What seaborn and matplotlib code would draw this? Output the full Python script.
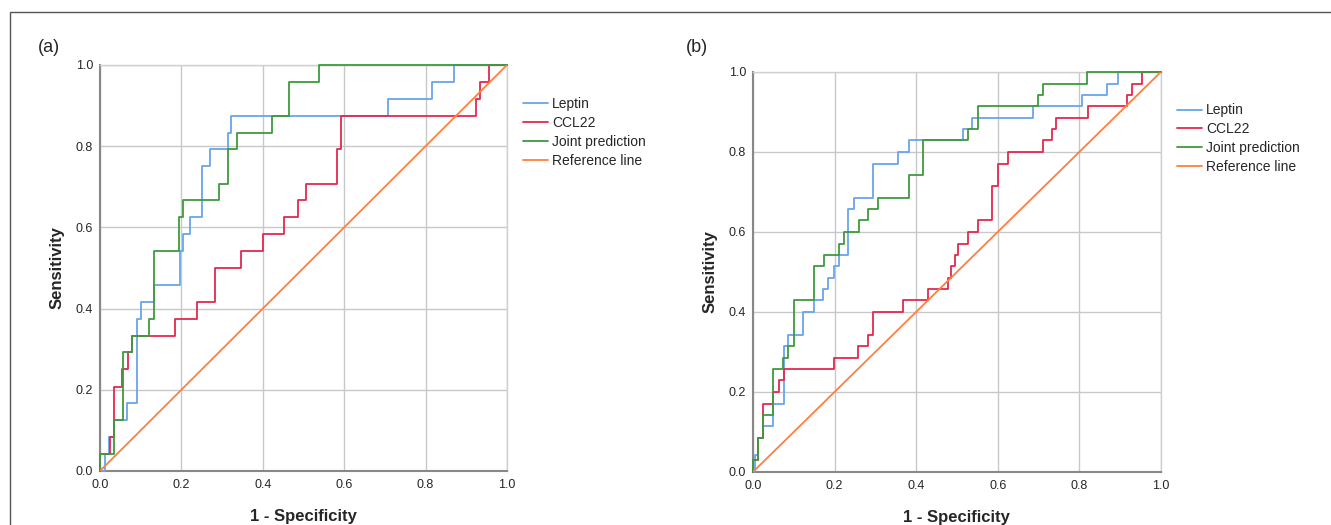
import numpy as np
import pandas as pd
import matplotlib
matplotlib.use("Agg")
import matplotlib.pyplot as plt
import seaborn as sns
from matplotlib.patches import Rectangle

sns.set_theme(style="white")
plt.rcParams['font.family'] = ['Liberation Sans', 'DejaVu Sans']

markers = ["Leptin", "CCL22", "Joint prediction"]
colors = {"Leptin": "#6aa5ec", "CCL22": "#e3294f", "Joint prediction": "#3f9a3f", "Reference line": "#ff7f3f"}

# panel (a): step points (fpr at jump, tpr after jump)
a_leptin_fpr = [0, 0.012, 0.023, 0.035, 0.067, 0.09, 0.10, 0.133, 0.197, 0.205, 0.22, 0.25, 0.271, 0.314, 0.323, 0.708, 0.817, 0.87, 1.0]
a_leptin_tpr = [0, 0.042, 0.083, 0.125, 0.167, 0.375, 0.417, 0.458, 0.542, 0.583, 0.625, 0.75, 0.792, 0.833, 0.875, 0.917, 0.958, 1.0, 1.0]
a_ccl22_fpr = [0, 0, 0.025, 0.035, 0.055, 0.07, 0.078, 0.184, 0.239, 0.283, 0.346, 0.40, 0.453, 0.486, 0.506, 0.582, 0.591, 0.924, 0.934, 0.956, 1.0]
a_ccl22_tpr = [0, 0.042, 0.083, 0.208, 0.25, 0.292, 0.333, 0.375, 0.417, 0.5, 0.542, 0.583, 0.625, 0.667, 0.708, 0.792, 0.875, 0.917, 0.958, 1.0, 1.0]
a_joint_fpr = [0, 0, 0.035, 0.057, 0.078, 0.12, 0.133, 0.195, 0.205, 0.292, 0.314, 0.336, 0.422, 0.464, 0.538, 1.0]
a_joint_tpr = [0, 0.042, 0.125, 0.292, 0.333, 0.375, 0.542, 0.625, 0.667, 0.708, 0.792, 0.833, 0.875, 0.958, 1.0, 1.0]

# panel (b)
b_leptin_fpr = [0, 0.006, 0.012, 0.025, 0.049, 0.075, 0.086, 0.123, 0.149, 0.172, 0.184, 0.198, 0.21, 0.233, 0.248, 0.294, 0.355, 0.382, 0.516, 0.538, 0.686, 0.807, 0.869, 0.894, 1.0]
b_leptin_tpr = [0, 0.043, 0.086, 0.114, 0.171, 0.314, 0.343, 0.4, 0.429, 0.457, 0.486, 0.514, 0.543, 0.657, 0.686, 0.771, 0.8, 0.829, 0.857, 0.886, 0.914, 0.943, 0.971, 1.0, 1.0]
b_ccl22_fpr = [0, 0, 0.012, 0.025, 0.049, 0.065, 0.075, 0.198, 0.257, 0.282, 0.294, 0.368, 0.429, 0.478, 0.486, 0.495, 0.503, 0.528, 0.552, 0.587, 0.6, 0.624, 0.71, 0.734, 0.744, 0.822, 0.918, 0.93, 0.953, 1.0]
b_ccl22_tpr = [0, 0.029, 0.086, 0.171, 0.2, 0.229, 0.257, 0.286, 0.314, 0.343, 0.4, 0.429, 0.457, 0.486, 0.514, 0.543, 0.571, 0.6, 0.629, 0.714, 0.771, 0.8, 0.829, 0.857, 0.886, 0.914, 0.943, 0.971, 1.0, 1.0]
b_joint_fpr = [0, 0, 0.012, 0.025, 0.049, 0.074, 0.086, 0.1, 0.149, 0.174, 0.21, 0.222, 0.259, 0.282, 0.306, 0.382, 0.417, 0.526, 0.551, 0.698, 0.71, 0.82, 1.0]
b_joint_tpr = [0, 0.029, 0.086, 0.143, 0.257, 0.286, 0.314, 0.429, 0.514, 0.543, 0.571, 0.6, 0.629, 0.657, 0.686, 0.743, 0.829, 0.857, 0.914, 0.943, 0.971, 1.0, 1.0]

ref_x = [0, 1]
ref_y = [0, 1]
ticks = [0.0, 0.2, 0.4, 0.6, 0.8, 1.0]

panels = [
    ("(a)", [(a_leptin_fpr, a_leptin_tpr), (a_ccl22_fpr, a_ccl22_tpr), (a_joint_fpr, a_joint_tpr)]),
    ("(b)", [(b_leptin_fpr, b_leptin_tpr), (b_ccl22_fpr, b_ccl22_tpr), (b_joint_fpr, b_joint_tpr)]),
]
rects = [[0.0751, 0.1029, 0.3058, 0.7733], [0.5657, 0.1010, 0.3065, 0.7620]]
tag_pos = [(49 / 1331, 1 - 47 / 525), (697 / 1331, 1 - 47 / 525)]

fig = plt.figure(figsize=(13.31, 5.25), dpi=100)
fig.add_artist(Rectangle((0.0075, -0.1), 1.2, 1.077, transform=fig.transFigure,
                         fill=False, edgecolor="#555555", lw=1.0))

for (tag, curves), rect, tp in zip(panels, rects, tag_pos):
    ax = fig.add_axes(rect)
    for name, (fx, ty) in zip(markers, curves):
        df = pd.DataFrame({"fpr": fx, "tpr": ty})
        sns.lineplot(data=df, x="fpr", y="tpr", sort=False, estimator=None, ax=ax,
                     color=colors[name], lw=1.3, drawstyle="steps-post", label=name,
                     zorder=3, clip_on=False)
    sns.lineplot(x=ref_x, y=ref_y, ax=ax, color=colors["Reference line"], lw=1.3,
                 label="Reference line", zorder=3)
    ax.set_xlim(0, 1)
    ax.set_ylim(0, 1)
    ax.set_xticks(ticks)
    ax.set_yticks(ticks)
    ax.set_xticklabels([f"{t:.1f}" for t in ticks], fontsize=9)
    ax.set_yticklabels([f"{t:.1f}" for t in ticks], fontsize=9)
    ax.tick_params(axis="x", length=0, pad=6)
    ax.tick_params(axis="y", length=0, pad=5)
    ax.grid(True, color="#c8c8c8", lw=1.0)
    ax.set_axisbelow(True)
    for s in ["top", "right"]:
        ax.spines[s].set_color("#d0d0d0")
        ax.spines[s].set_linewidth(1.0)
    for s in ["left", "bottom"]:
        ax.spines[s].set_color("#888888")
        ax.spines[s].set_linewidth(1.5)
    ax.set_xlabel("1 - Specificity", fontsize=12, fontweight="bold", labelpad=13)
    ax.set_ylabel("Sensitivity", fontsize=12, fontweight="bold", labelpad=8)
    ax.legend(loc="upper left", bbox_to_anchor=(1.025, 0.935), frameon=False, fontsize=10,
              handlelength=1.8, handletextpad=0.3, labelspacing=0.35, borderaxespad=0)
    fig.text(tp[0], tp[1], tag, fontsize=13, ha="center", va="center")

fig.savefig("out.png", dpi=100)
